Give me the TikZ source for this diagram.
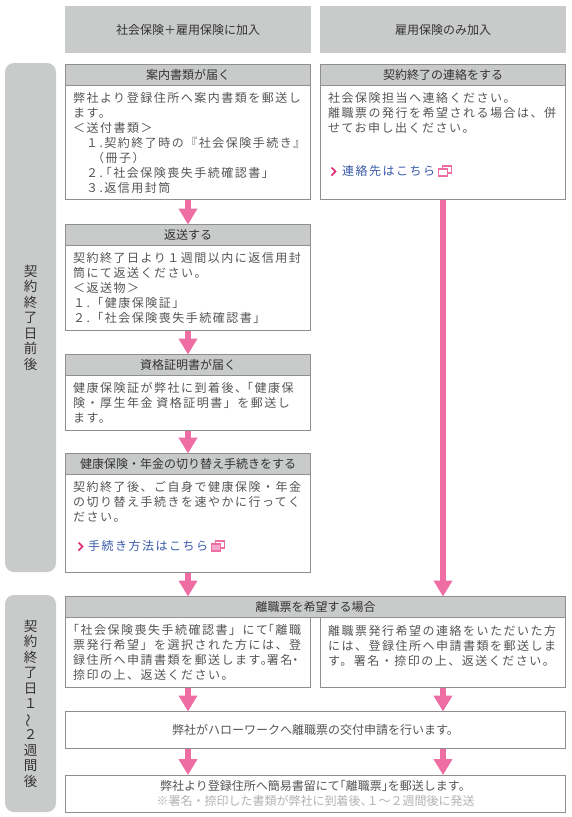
\documentclass[tikz,border=0pt]{standalone}
\usepackage{fontspec}
\usepackage{tikz}
\usetikzlibrary{positioning}
\usetikzlibrary{arrows.meta}
\usetikzlibrary{calc}
\setmainfont{Noto Sans CJK JP}
\newfontfamily\wide[LetterSpace=12.5]{Noto Sans CJK JP}
\definecolor{bandgray}{HTML}{C9CACA}
\definecolor{framegray}{HTML}{8F8F8F}
\definecolor{bodyink}{HTML}{555555}
\definecolor{titleink}{HTML}{333333}
\definecolor{flowpink}{HTML}{EE6DA2}
\definecolor{chevpink}{HTML}{E0246E}
\definecolor{linkblue}{HTML}{3A5BAA}
\newcommand{\fone}{\char"FF11\relax}
\newcommand{\ftwo}{\char"FF12\relax}
\newcommand{\fthree}{\char"FF13\relax}
\newcommand{\flt}{\char"FF1C\relax}
\newcommand{\fgt}{\char"FF1E\relax}
\newcommand{\fplus}{\char"FF0B\relax}
\newcommand{\flp}{\char"FF08\relax}
\newcommand{\frp}{\char"FF09\relax}
\newcommand{\fwave}{\char"301C\relax}
\newcommand{\linkicon}[2]{
    \draw[flowpink, line width=1.2pt] ($(#1)+(7,-5)$) rectangle ($(#1)+(16,2)$);
    \draw[flowpink, line width=1.2pt, fill=#2] ($(#1)+(3,-2)$) rectangle ($(#1)+(12,5)$);
}

\begin{document}
\begin{tikzpicture}[x=1pt, y=-1pt,
        band/.style={fill=bandgray, anchor=north west, inner sep=0pt, outer sep=0pt,
            text=titleink, align=center, font=\fontsize{12}{15}\selectfont},
        sideband/.style={band, rounded corners=9pt, minimum width=51pt,
            font=\fontsize{13.5}{15.5}\selectfont},
        titlebox/.style={band, draw=framegray, line width=1pt, minimum width=245pt, minimum height=21pt},
        bodybox/.style={draw=framegray, line width=1pt, fill=white, inner xsep=7.5pt, inner ysep=0pt,
            outer sep=0pt, text width=230pt, align=left, text=bodyink,
            font=\wide\fontsize{12}{15}\selectfont},
        plainbox/.style={titlebox, fill=white, draw=framegray, minimum width=500pt, text=bodyink},
        flow/.style={flowpink, line width=6pt, -{Triangle[width=18pt, length=16pt]}},
        chev/.style={chevpink, line width=1.6pt},
        linktext/.style={anchor=west, inner sep=0pt, text=linkblue, font=\wide\fontsize{12}{15}\selectfont}]

    \useasboundingbox (0,0) rectangle (571,817);

    % column heads
    \node[band, minimum width=246pt, minimum height=47pt] (headl) at (65,6) {社会保険\fplus 雇用保険に加入};
    \node[band, minimum width=246pt, minimum height=47pt] (headr) at (320,6) {雇用保険のみ加入};

    % periods
    \node[sideband, minimum height=509pt] (before) at (5,63)
    {契\\約\\終\\了\\日\\前\\後};
    \node[sideband, minimum height=217pt] (after) at (5,595)
    {契\\約\\終\\了\\日\\\fone\\\rotatebox[origin=c]{90}{\fwave}\\\ftwo\\週\\間\\後};

    % left column
    \node[titlebox] (guidet) at (65.5,64.5) {案内書類が届く};
    \node[bodybox, minimum height=114pt, below=0pt of guidet] (guide)
    {弊社より登録住所へ案内書類を郵送し\\
    ます。\\
    \flt 送付書類\fgt\\
    \hspace*{13pt}\fone.契約終了時の『社会保険手続き』\\
    \hspace*{19pt}\flp 冊子\frp\\
    \hspace*{13pt}\ftwo.\hspace{-3pt}「社会保険喪失手続確認書」\\
    \hspace*{13pt}\fthree.返信用封筒};

    \node[titlebox, below=25pt of guide] (returnt) {返送する};
    \node[bodybox, minimum height=85pt, below=0pt of returnt] (return)
    {契約終了日より\fone 週間以内に返信用封\\
    筒にて返送ください。\\
    \flt 返送物\fgt\\
    \fone.「健康保険証」\\
    \ftwo.「社会保険喪失手続確認書」};

    \node[titlebox, below=24pt of return] (certt) {資格証明書が届く};
    \node[bodybox, minimum height=55pt, below=0pt of certt] (cert)
    {健康保険証が弊社に到着後、\hspace{-6pt}「健康保\\
    険・厚生年金 資格証明書」を郵送し\\
    ます。};

    \node[titlebox, below=23pt of cert] (switcht) {健康保険・年金の切り替え手続きをする};
    \node[bodybox, minimum height=98pt, below=0pt of switcht] (switch)
    {契約終了後、ご自身で健康保険・年金\\
    の切り替え手続きを速やかに行ってく\\
    ださい。\\
    \mbox{}\\
    \mbox{}\\
    \mbox{}};

    % right column
    \node[titlebox] (contactt) at (320.5,64.5) {契約終了の連絡をする};
    \node[bodybox, minimum height=114pt, below=0pt of contactt] (contact)
    {社会保険担当へ連絡ください。\\
    離職票の発行を希望される場合は、併\\
    せてお申し出ください。\\
    \mbox{}\\
    \mbox{}\\
    \mbox{}\\
    \mbox{}};

    % links
    \node[linktext] (contactlink) at (342,171) {連絡先はこちら};
    \node[linktext] (switchlink) at (88,546) {手続き方法はこちら};
    \draw[chev] (331.5,167.5) -- (335.5,171.5) -- (331.5,175.5);
    \draw[chev] (78.5,542.5) -- (82.5,546.5) -- (78.5,550.5);
    \linkicon{contactlink.east}{white}
    \linkicon{switchlink.east}{flowpink!60}

    % lower part
    \node[titlebox, minimum width=500pt] (wisht) at (65.5,596.5) {離職票を希望する場合};
    \node[bodybox, minimum height=70pt, below=0pt of wisht.south west, anchor=north west] (wishl)
    {\hspace*{-6pt}「社会保険喪失手続確認書」にて\hspace{-6pt}「離職\\
    票発行希望」を選択された方には、登\\
    録住所へ申請書類を郵送します。\hspace{-6pt}署名\hspace{-3pt}・\\
    捺印の上、返送ください。};
    \node[bodybox, minimum height=70pt, below=0pt of wisht.south east, anchor=north east] (wishr)
    {離職票発行希望の連絡をいただいた方\\
    には、登録住所へ申請書類を郵送しま\\
    す。署名・捺印の上、返送ください。\\
    \mbox{}};

    \node[plainbox, minimum height=37pt] (apply) at (65.5,711.5)
    {弊社がハローワークへ離職票の交付申請を行います。};
    \node[plainbox, minimum height=37pt] (mail) at (65.5,775)
    {弊社より登録住所へ簡易書留にて\hspace{-6pt}「離職票」\hspace{-6pt}を郵送します。\\
    \textcolor{black!30}{※署名・捺印した書類が弊社に到着後、\hspace{-6pt}\fone\fwave\ftwo 週間後に発送}};

    % arrows
    \draw[flow] (guide) -- (returnt);
    \draw[flow] (return) -- (certt);
    \draw[flow] (cert) -- (switcht);
    \draw[flow] (switch) -- (switch |- wisht.north);
    \draw[flow] (contact) -- (contact |- wisht.north);
    \draw[flow] (wishl) -- (wishl |- apply.north);
    \draw[flow] (wishr) -- (wishr |- apply.north);
    \draw[flow] (wishl |- apply.south) -- (wishl |- mail.north);
    \draw[flow] (wishr |- apply.south) -- (wishr |- mail.north);

\end{tikzpicture}
\end{document}
